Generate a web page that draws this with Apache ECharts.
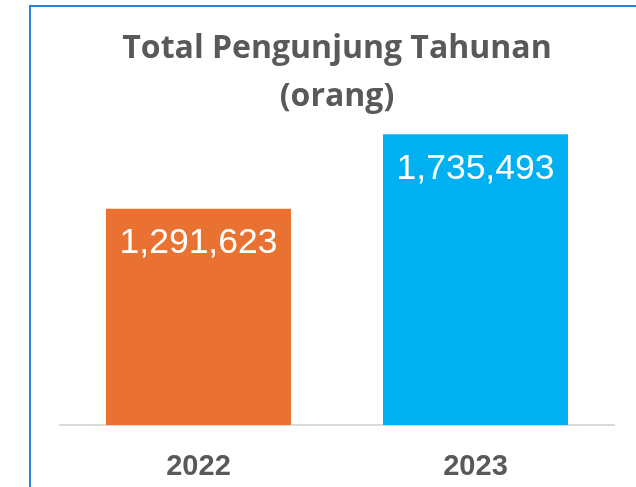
<!DOCTYPE html>
<html>
<head>
<meta charset="utf-8">
<script src="https://cdn.jsdelivr.net/npm/echarts@6/dist/echarts.min.js"></script>
<style>
html,body{margin:0;padding:0;background:#fff;}
#chart{width:636px;height:487px;}
</style>
</head>
<body>
<div id="chart"></div>
<script>
var years = ['2022', '2023'];
var visitors = [1291623, 1735493];
var barColors = ['#E97132', '#00B0F0'];
var titleLines = ['Total Pengunjung Tahunan', '(orang)'];

var chart = echarts.init(document.getElementById('chart'));
var option = {
	animation: false,
	backgroundColor: '#fff',
	grid: { left: 60, right: 22, top: 90, bottom: 62 },
	graphic: [
		{ // frame of the chart box
			type: 'rect', silent: true,
			shape: { x: 30, y: 6, width: 700, height: 600 },
			style: { fill: 'none', stroke: '#2A82D8', lineWidth: 2 }
		},
		{
			type: 'text', x: 337, y: 49,
			style: { text: titleLines[0], fill: '#595959', font: 'bold 32px "Open Sans"', textAlign: 'center', textVerticalAlign: 'middle' }
		},
		{
			type: 'text', x: 337, y: 97,
			style: { text: titleLines[1], fill: '#595959', font: 'bold 32px "Open Sans"', textAlign: 'center', textVerticalAlign: 'middle' }
		}
	],
	xAxis: {
		type: 'category',
		data: years,
		axisLine: { lineStyle: { color: '#D9D9D9', width: 2 } },
		axisTick: { show: false },
		axisLabel: { color: '#595959', fontSize: 29, fontWeight: 'bold', fontFamily: 'Liberation Sans', margin: 27 }
	},
	yAxis: {
		type: 'value', min: 0, max: 2000000,
		show: false, splitLine: { show: false }
	},
	series: [{
		type: 'bar',
		barWidth: 185,
		data: visitors.map(function(v, i){
			return { value: v, itemStyle: { color: barColors[i] } };
		}),
		label: {
			show: true,
			position: 'insideTop',
			distance: 17,
			color: '#fff',
			fontSize: 35.5,
			fontFamily: 'Liberation Sans',
			formatter: function(p){ return p.value.toLocaleString('en-US'); }
		}
	}]
};
chart.setOption(option);
</script>
</body>
</html>
